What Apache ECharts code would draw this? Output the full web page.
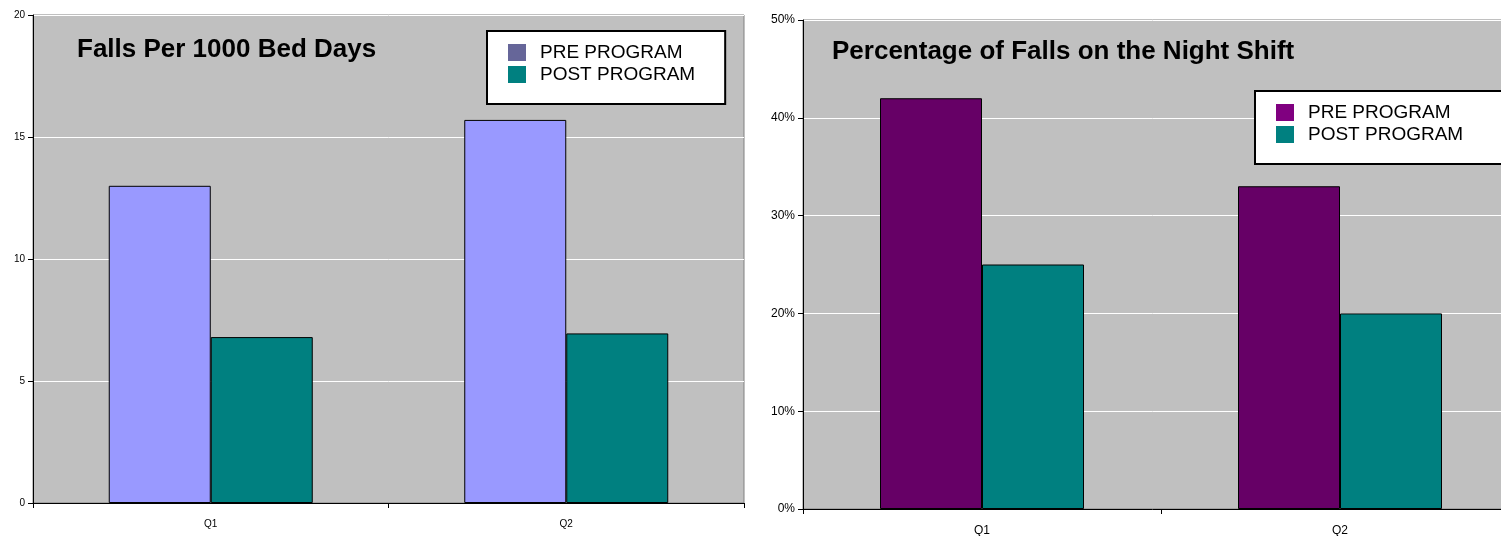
<!DOCTYPE html>
<html lang="en">
<head>
    <meta charset="UTF-8">
    <title>Falls charts</title>
    <style>
        html, body { margin: 0; padding: 0; background: #fff; }
    </style>
</head>
<body>
<div id="main" style="width:1501px; height:536px"></div>

<script src="https://cdn.jsdelivr.net/npm/echarts@6/dist/echarts.min.js"></script>
<script>
    // data
    var categories = ['Q1', 'Q2'];
    var seriesNames = ['PRE PROGRAM', 'POST PROGRAM'];
    var fallsPre = [13.0, 15.7];      // falls per 1000 bed days
    var fallsPost = [6.8, 6.95];
    var nightPre = [42, 33];          // % of falls on the night shift
    var nightPost = [25, 20];
    var fallsTicks = { min: 0, max: 20, interval: 5 };
    var nightTicks = { min: 0, max: 50, interval: 10 };

    var myChart = echarts.init(document.getElementById('main'));
    var font = 'Arial, "Liberation Sans", sans-serif';

    function xAxis(idx, size) {
        return {
            type: 'category', gridIndex: idx, data: categories,
            axisLine: { lineStyle: { color: '#000', width: 1 } },
            axisTick: { show: true, length: 5, lineStyle: { color: '#000' } },
            axisLabel: { color: '#000', fontSize: size, fontFamily: font, margin: 16 }
        };
    }
    function yAxis(idx, t, size, fmt) {
        return {
            type: 'value', gridIndex: idx, min: t.min, max: t.max, interval: t.interval,
            axisLine: { show: true, lineStyle: { color: '#000', width: 1 } },
            axisTick: { show: true, length: 5, lineStyle: { color: '#000' } },
            axisLabel: { color: '#000', fontSize: size, fontFamily: font, margin: 8, formatter: fmt },
            splitLine: { show: true, lineStyle: { color: '#ffffff', width: 1 } }
        };
    }
    function bar(name, idx, data, color) {
        return {
            name: name, type: 'bar', xAxisIndex: idx, yAxisIndex: idx,
            data: data, barWidth: 102, barGap: '0%',
            itemStyle: { color: color, borderColor: '#000', borderWidth: 1 }
        };
    }
    function legend(left, top, padRight, preColor) {
        return {
            orient: 'vertical', left: left, top: top,
            backgroundColor: '#fff', borderColor: '#000', borderWidth: 2, borderRadius: 0,
            padding: [12, padRight, 20, 21],
            itemWidth: 18, itemHeight: 17, itemGap: 3,
            icon: 'rect',
            textStyle: { color: '#000', fontSize: 19, lineHeight: 17, fontFamily: font, padding: [0, 0, 0, 9] },
            selectedMode: false,
            data: [
                { name: seriesNames[0], itemStyle: { color: preColor, borderWidth: 0 } },
                { name: seriesNames[1], itemStyle: { color: '#008080', borderWidth: 0 } }
            ]
        };
    }

    var option = {
        animation: false,
        backgroundColor: '#fff',
        title: [
            { text: 'Falls Per 1000 Bed Days', left: 72, top: 32,
              textStyle: { fontSize: 26, fontWeight: 'bold', color: '#000', fontFamily: font } },
            { text: 'Percentage of Falls on the Night Shift', left: 827, top: 34,
              textStyle: { fontSize: 26, fontWeight: 'bold', color: '#000', fontFamily: font } }
        ],
        grid: [
            { left: 33, top: 15, width: 711, height: 488, show: true, outerBoundsMode: 'none',
              backgroundColor: '#C0C0C0', borderColor: '#808080', borderWidth: 1 },
            { left: 803, top: 20, width: 716, height: 489, show: true, outerBoundsMode: 'none',
              backgroundColor: '#C0C0C0', borderColor: '#808080', borderWidth: 1 }
        ],
        legend: [
            legend(487, 31, 30, '#666699'),
            legend(1255, 91, 60, '#800080')
        ],
        xAxis: [xAxis(0, 10), xAxis(1, 12)],
        yAxis: [
            yAxis(0, fallsTicks, 10, '{value}'),
            yAxis(1, nightTicks, 12, '{value}%')
        ],
        series: [
            bar(seriesNames[0], 0, fallsPre, '#9999FF'),
            bar(seriesNames[1], 0, fallsPost, '#008080'),
            bar(seriesNames[0], 1, nightPre, '#660066'),
            bar(seriesNames[1], 1, nightPost, '#008080')
        ]
    };
    myChart.setOption(option);
</script>
</body>
</html>
